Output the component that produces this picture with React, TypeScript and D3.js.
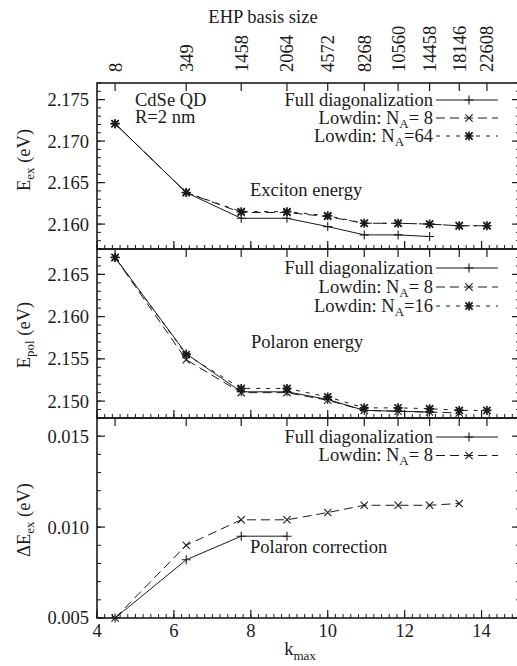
import React from 'react';
import * as d3 from 'd3';

// k_max values of the calculated points and the matching EHP basis sizes
const kVals = [4.47, 6.32, 7.75, 8.94, 10, 10.95, 11.83, 12.65, 13.42, 14.14];
const basisLabels = ['8', '349', '1458', '2064', '4572', '8268', '10560', '14458', '18146', '22608'];

// exciton energy (eV)
const excFull = [2.1721, 2.1638, 2.1607, 2.1607, 2.1597, 2.1587, 2.1587, 2.1585];
const excNA8 = [2.1721, 2.1638, 2.1614, 2.1614, 2.1609, 2.1601, 2.1601, 2.16, 2.1598, 2.1598];
const excNA64 = [2.1721, 2.1638, 2.1615, 2.1615, 2.161, 2.1601, 2.1601, 2.16, 2.1598, 2.1598];

// polaron energy (eV)
const polFull = [2.167, 2.1556, 2.1511, 2.1511, 2.1502, 2.1489, 2.1488, 2.1487];
const polNA8 = [2.167, 2.1549, 2.151, 2.151, 2.1501, 2.1489, 2.1488, 2.1487, 2.1486];
const polNA16 = [2.167, 2.1555, 2.1515, 2.1515, 2.1505, 2.1492, 2.1492, 2.1491, 2.1489, 2.1489];

// polaron correction (eV)
const corrFull = [0.005, 0.0082, 0.0095, 0.0095];
const corrNA8 = [0.005, 0.009, 0.0104, 0.0104, 0.0108, 0.0112, 0.0112, 0.0112, 0.0113];

const xTicks = [4, 6, 8, 10, 12, 14];

const W = 517, H = 666;
const FS = 18.5, SUB = 13;
const T = { fontFamily: '"Liberation Serif"' };
const INK = '#1a1a1a';

const x = d3.scaleLinear().domain([4, 15]).range([97, 520]);

type Series = { vals: number[]; dash?: string; marker: 'plus' | 'cross' | 'star'; label: string; sub?: string; tail?: string };

function markerPath(kind: string, cx: number, cy: number) {
  const p = d3.path();
  const a = 4.5, b = 3.6;
  if (kind === 'plus' || kind === 'star') {
    p.moveTo(cx - a, cy); p.lineTo(cx + a, cy);
    p.moveTo(cx, cy - a); p.lineTo(cx, cy + a);
  }
  if (kind === 'cross' || kind === 'star') {
    p.moveTo(cx - b, cy - b); p.lineTo(cx + b, cy + b);
    p.moveTo(cx - b, cy + b); p.lineTo(cx + b, cy - b);
  }
  return p.toString();
}

function Panel(props: {
  top: number; bottom: number; domain: [number, number]; major: number[]; minorStep: number;
  fmt: (v: number) => string; series: Series[]; legendY: number[];
}) {
  const { top, bottom, domain, major, minorStep, fmt, series, legendY } = props;
  const y = d3.scaleLinear().domain(domain).range([bottom, top]);
  const minors = d3.range(Math.round((domain[1] - domain[0]) / minorStep) + 1).map(i => domain[0] + i * minorStep);
  const xMinor = d3.range(0, 56).map(i => 4 + i * 0.2);
  const line = d3.line<[number, number]>().x(d => x(d[0])).y(d => y(d[1]));
  return (
    <g>
      {/* y ticks left & right */}
      {minors.map((v, i) => (
        <g key={'ym' + i} stroke={INK} strokeWidth={1}>
          <line x1={97} x2={101} y1={y(v)} y2={y(v)} />
          <line x1={520} x2={516} y1={y(v)} y2={y(v)} />
        </g>
      ))}
      {major.map((v, i) => (
        <g key={'yM' + i}>
          <line x1={97} x2={105} y1={y(v)} y2={y(v)} stroke={INK} strokeWidth={1.2} />
          <line x1={520} x2={512} y1={y(v)} y2={y(v)} stroke={INK} strokeWidth={1.2} />
          <text x={89} y={y(v)} dy="0.35em" textAnchor="end" fontSize={FS} style={T}>{fmt(v)}</text>
        </g>
      ))}
      {/* bottom k ticks */}
      {xMinor.map((v, i) => (
        <line key={'xm' + i} x1={x(v)} x2={x(v)} y1={bottom} y2={bottom - 4} stroke={INK} strokeWidth={1} />
      ))}
      {xTicks.map((v, i) => (
        <line key={'xM' + i} x1={x(v)} x2={x(v)} y1={bottom} y2={bottom - 8} stroke={INK} strokeWidth={1.2} />
      ))}
      {/* top ticks at the basis sizes */}
      {kVals.map((v, i) => (
        <line key={'xt' + i} x1={x(v)} x2={x(v)} y1={top} y2={top + 8} stroke={INK} strokeWidth={1.2} />
      ))}
      {/* data */}
      {series.map((s, si) => {
        const pts = s.vals.map((v, i) => [kVals[i], v] as [number, number]);
        return (
          <g key={'s' + si} fill="none" stroke={INK}>
            <path d={line(pts) || ''} strokeWidth={1} strokeDasharray={s.dash} />
            {pts.map((d, i) => (
              <path key={i} d={markerPath(s.marker, x(d[0]), y(d[1]))} strokeWidth={s.marker === 'star' ? 1.7 : 1.1} />
            ))}
          </g>
        );
      })}
      {/* legend */}
      {series.map((s, si) => (
        <g key={'l' + si}>
          <text x={433} y={legendY[si]} textAnchor="end" fontSize={FS} style={T}>
            {s.label}
            {s.sub ? <tspan dy={4} fontSize={SUB}>{s.sub}</tspan> : null}
            {s.tail ? <tspan dy={-4}>{s.tail}</tspan> : null}
          </text>
          <line x1={436} x2={498} y1={legendY[si] - 5.5} y2={legendY[si] - 5.5} stroke={INK} strokeWidth={1} strokeDasharray={s.dash} />
          <path d={markerPath(s.marker, 469, legendY[si] - 5.5)} stroke={INK} fill="none" strokeWidth={s.marker === 'star' ? 1.7 : 1.1} />
        </g>
      ))}
      <rect x={97} y={top} width={423} height={bottom - top} fill="none" stroke={INK} strokeWidth={1.6} />
    </g>
  );
}

const LONG = '9,5';
const SHORT = '4,6';

export default function App() {
  const fmt3 = d3.format('.3f');
  return (
    <svg width={W} height={H} style={{ position: 'absolute', left: 0, top: 0, background: '#fff' }} fill={INK}>
      <rect width={W} height={H} fill="#fff" />
      <text x={263} y={23} textAnchor="middle" fontSize={FS} style={T}>EHP basis size</text>
      {kVals.map((v, i) => (
        <text key={i} transform={`translate(${x(v)},72) rotate(-90)`} dy="0.35em" fontSize={FS} style={T}>{basisLabels[i]}</text>
      ))}

      <Panel top={83} bottom={249} domain={[2.157, 2.177]} major={[2.16, 2.165, 2.17, 2.175]} minorStep={0.001}
        fmt={fmt3} legendY={[105.5, 123.5, 141.5]}
        series={[
          { vals: excFull, marker: 'plus', label: 'Full diagonalization' },
          { vals: excNA8, marker: 'cross', dash: LONG, label: 'Lowdin: N', sub: 'A', tail: '= 8' },
          { vals: excNA64, marker: 'star', dash: SHORT, label: 'Lowdin: N', sub: 'A', tail: '=64' },
        ]} />
      <Panel top={249} bottom={418} domain={[2.148, 2.168]} major={[2.15, 2.155, 2.16, 2.165]} minorStep={0.001}
        fmt={fmt3} legendY={[273.5, 292.5, 311.5]}
        series={[
          { vals: polFull, marker: 'plus', label: 'Full diagonalization' },
          { vals: polNA8, marker: 'cross', dash: LONG, label: 'Lowdin: N', sub: 'A', tail: '= 8' },
          { vals: polNA16, marker: 'star', dash: SHORT, label: 'Lowdin: N', sub: 'A', tail: '=16' },
        ]} />
      <Panel top={418} bottom={618} domain={[0.005, 0.016]} major={[0.005, 0.01, 0.015]} minorStep={0.001}
        fmt={fmt3} legendY={[442.5, 461]}
        series={[
          { vals: corrFull, marker: 'plus', label: 'Full diagonalization' },
          { vals: corrNA8, marker: 'cross', dash: LONG, label: 'Lowdin: N', sub: 'A', tail: '= 8' },
        ]} />

      {xTicks.map((v, i) => (
        <text key={'xl' + i} x={x(v)} y={637} textAnchor="middle" fontSize={FS} style={T}>{v}</text>
      ))}
      <text x={300} y={655} textAnchor="middle" fontSize={FS} style={T}>k<tspan dy={5} fontSize={SUB}>max</tspan></text>

      <text x={135} y={106} fontSize={FS} style={T}>CdSe QD</text>
      <text x={135} y={122.5} fontSize={FS} style={T}>R=2 nm</text>
      <text x={250} y={196} fontSize={FS} style={T}>Exciton energy</text>
      <text x={251} y={348} fontSize={FS} style={T}>Polaron energy</text>
      <text x={250} y={553} fontSize={FS} style={T}>Polaron correction</text>

      <text transform="translate(30,160) rotate(-90)" textAnchor="middle" fontSize={FS} style={T}>
        E<tspan dy={4} fontSize={SUB}>ex</tspan><tspan dy={-4}> (eV)</tspan>
      </text>
      <text transform="translate(30,335) rotate(-90)" textAnchor="middle" fontSize={FS} style={T}>
        E<tspan dy={4} fontSize={SUB}>pol</tspan><tspan dy={-4}> (eV)</tspan>
      </text>
      <text transform="translate(30,520) rotate(-90)" textAnchor="middle" fontSize={FS} style={T}>
        ΔE<tspan dy={4} fontSize={SUB}>ex</tspan><tspan dy={-4}> (eV)</tspan>
      </text>
    </svg>
  );
}
